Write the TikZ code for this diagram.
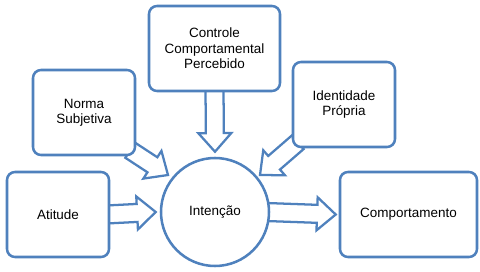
\documentclass[tikz,border=0pt]{standalone}
\usepackage{fontspec}
\setmainfont{Liberation Sans}
\usetikzlibrary{calc,backgrounds}

\definecolor{boxblue}{HTML}{4F81BD}

\tikzset{
  box/.style={draw=boxblue, line width=1.9pt, rounded corners=6pt, fill=white,
    align=center, minimum height=63.75pt, inner sep=2pt,
    font=\fontsize{10.1}{11.5}\selectfont},
  roundbox/.style={draw=boxblue, line width=1.9pt, circle, minimum size=81pt,
    fill=white, inner sep=0pt, font=\fontsize{10.1}{11.5}\selectfont},
  blockarrow/.style={draw=boxblue, line width=1.7pt, fill=white, line join=miter}
}

% hollow block arrow from #1 to its tip #2
\newcommand{\bigarrow}[2]{%
  \coordinate (h) at ($(#2)!14pt!(#1)$);
  \draw[blockarrow] ($(#1)!6.75pt!90:(#2)$) -- ($(h)!6.75pt!-90:(#1)$)
    -- ($(h)!12.4pt!-90:(#1)$) -- (#2) -- ($(h)!12.4pt!90:(#1)$)
    -- ($(h)!6.75pt!90:(#1)$) -- ($(#1)!6.75pt!-90:(#2)$) -- cycle;}

\begin{document}
\begin{tikzpicture}[x=0.75pt, y=-0.75pt]
  \useasboundingbox (0,0) rectangle (480,272);

  % Boxes
  \node[box, minimum width=76.5pt]   (att)   at (58, 214.5)  {Atitude};
  \node[box, minimum width=76.5pt]   (norm)  at (84, 112.5)  {Norma\\Subjetiva};
  \node[box, minimum width=98.25pt]  (ctrl)  at (214.5, 48.5) {Controle\\Comportamental\\Percebido};
  \node[box, minimum width=76.5pt]   (ident) at (344, 104.5) {Identidade\\Própria};
  \node[box, minimum width=102.75pt] (comp)  at (408.5, 214.5) {Comportamento};

  % Centre
  \node[roundbox] (int) at (215, 212) {Intenção};

  % Arrow ends
  \coordinate (attS)   at ($(att.east)+(-4,0)$);
  \coordinate (attT)   at ($(int.west)+(-4,0)$);
  \coordinate (normS)  at ($(norm.south east)+(-6,-6)$);
  \coordinate (normT)  at ($(int.center)+(-47,-37)$);
  \coordinate (ctrlS)  at ($(ctrl.south)+(0,-4)$);
  \coordinate (ctrlT)  at ($(int.north)+(0,-5)$);
  \coordinate (identS) at ($(ident.south west)+(6,-6)$);
  \coordinate (identT) at ($(int.center)+(45,-37)$);
  \coordinate (compS)  at ($(int.east)+(-4,0)$);
  \coordinate (compT)  at ($(comp.west)+(-3,0)$);

  % Arrows, behind the boxes
  \begin{pgfonlayer}{background}
    \bigarrow{attS}{attT}
    \bigarrow{normS}{normT}
    \bigarrow{ctrlS}{ctrlT}
    \bigarrow{identS}{identT}
    \bigarrow{compS}{compT}
  \end{pgfonlayer}
\end{tikzpicture}
\end{document}
